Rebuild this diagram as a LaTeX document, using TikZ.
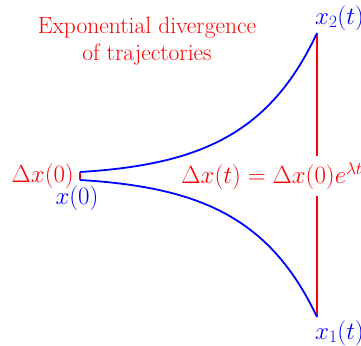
\documentclass[tikz,border=0pt]{standalone}
\begin{document}
\begin{tikzpicture}[x=1pt,y=-1pt,
  big/.style={font=\fontsize{23.5}{27}\selectfont, inner sep=0pt},
  redtxt/.style={big, text=red},
  bluetxt/.style={big, text=blue},
  traj/.style={draw=blue, line width=1.8pt},
  sep/.style={draw=red, line width=1.8pt}]
\useasboundingbox (0,0) rectangle (361,345);
% points
\coordinate (A) at (80,172);
\coordinate (B) at (80,180);
\coordinate (C) at (317,33);
\coordinate (D) at (317,317);
% separation lines
\draw[sep] (A) -- (B);
\draw[sep] (C) -- (D);
% separation label (covers the red line)
\node[redtxt, fill=white, inner sep=6pt] (dt) at (272,176) {$\Delta x(t) = \Delta x(0)e^{\lambda t}$};
% trajectories
\draw[traj] (A) .. controls (198.5,164.8) and (269.6,134.7) .. (C);
\draw[traj] (B) .. controls (198.5,187.1) and (269.6,216.7) .. (D);
% labels
\node[redtxt, align=center] (title) at (147,41) {Exponential divergence\\of trajectories};
\node[redtxt, anchor=east] (d0) at (74,176) {$\Delta x(0)$};
\node[bluetxt] (x0) at (77,198) {$x(0)$};
\node[bluetxt, anchor=west] (x2) at (315,18) {$x_2(t)$};
\node[bluetxt, anchor=west] (x1) at (315,333) {$x_1(t)$};
\end{tikzpicture}
\end{document}
